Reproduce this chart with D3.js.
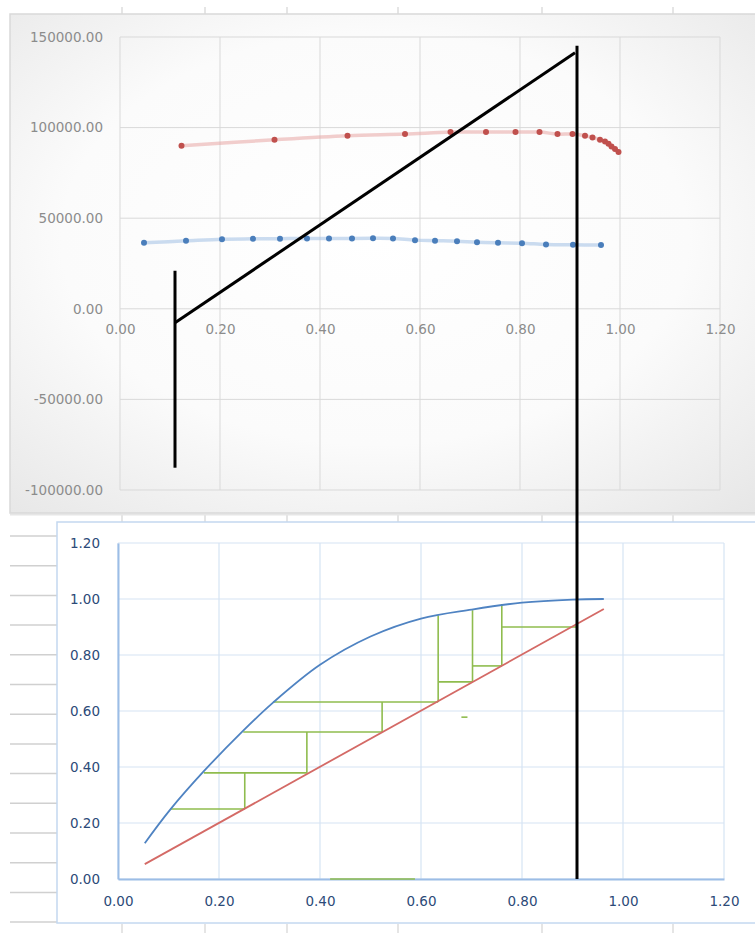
<!DOCTYPE html>
<html>
<head>
<meta charset="utf-8">
<script src="https://cdn.jsdelivr.net/npm/d3@7"></script>
<style>
  html, body { margin: 0; padding: 0; background: #ffffff; }
  svg { display: block; }
  text { font-family: "DejaVu Sans", sans-serif; }
</style>
</head>
<body>
<script>
// ---------------- DATA ----------------
// Top chart
const topXTicks = [0, 0.2, 0.4, 0.6, 0.8, 1.0, 1.2];
const topYTicks = [-100000, -50000, 0, 50000, 100000, 150000];

const redX = [0.123, 0.309, 0.455, 0.570, 0.661, 0.732, 0.791, 0.839, 0.875, 0.905, 0.930, 0.945, 0.960, 0.970, 0.977, 0.983, 0.990, 0.997];
const redY = [89960, 93270, 95480, 96420, 97520, 97520, 97520, 97520, 96420, 96420, 95480, 94540, 93270, 92330, 91060, 89570, 88140, 86480];

const blueX = [0.048, 0.132, 0.204, 0.266, 0.320, 0.374, 0.418, 0.464, 0.506, 0.546, 0.590, 0.630, 0.674, 0.714, 0.756, 0.804, 0.852, 0.906, 0.962];
const blueY = [36400, 37500, 38400, 38600, 38700, 38800, 38800, 38800, 38900, 38800, 37900, 37600, 37300, 36700, 36400, 36200, 35500, 35300, 35200];

// Black annotation lines (in chart data units)
const annoLeftVertical = { x: 0.11, y1: 21000, y2: -87700 };
const annoDiagonal = [[0.11, -7700], [0.91, 141300]];
const annoRightVertical = { x: 0.914, yTopChart: 145200, yBottomChart: 0 };

// Bottom chart: x-y equilibrium diagram
const botXTicks = [0, 0.2, 0.4, 0.6, 0.8, 1.0, 1.2];
const botYTicks = [0, 0.2, 0.4, 0.6, 0.8, 1.0, 1.2];

const eqX = [0.053, 0.103, 0.170, 0.248, 0.307, 0.400, 0.500, 0.600, 0.700, 0.800, 0.900, 0.962];
const eqY = [0.128, 0.247, 0.385, 0.530, 0.630, 0.765, 0.866, 0.930, 0.962, 0.987, 0.998, 1.000];

const diagX = [0.053, 0.962];
const diagY = [0.053, 0.964];

// Green step segments: [x1, y1, x2, y2]
const stepSegments = [
  [0.909, 0.900, 0.760, 0.900],
  [0.760, 0.982, 0.760, 0.761],
  [0.760, 0.761, 0.702, 0.761],
  [0.702, 0.960, 0.702, 0.704],
  [0.702, 0.704, 0.634, 0.704],
  [0.634, 0.942, 0.634, 0.632],
  [0.634, 0.632, 0.307, 0.632],
  [0.523, 0.632, 0.523, 0.525],
  [0.523, 0.525, 0.248, 0.525],
  [0.374, 0.525, 0.374, 0.379],
  [0.374, 0.379, 0.170, 0.379],
  [0.251, 0.379, 0.251, 0.250],
  [0.251, 0.250, 0.103, 0.250],
  [0.680, 0.578, 0.692, 0.578],
  [0.420, 0.000, 0.588, 0.000]
];

// ---------------- DRAWING ----------------
const W = 755, H = 933;
const fmt2 = d => d.toFixed(2);
const svg = d3.select("body").append("svg").attr("width", W).attr("height", H);
svg.append("rect").attr("width", W).attr("height", H).attr("fill", "#ffffff");

const defs = svg.append("defs");
const rg = defs.append("radialGradient").attr("id", "topbg")
  .attr("cx", "48%").attr("cy", "45%").attr("r", "75%");
rg.append("stop").attr("offset", "0%").attr("stop-color", "#ffffff");
rg.append("stop").attr("offset", "55%").attr("stop-color", "#fbfbfb");
rg.append("stop").attr("offset", "100%").attr("stop-color", "#e6e6e6");

// spreadsheet decorations
const colEdges = [122, 205, 287, 398, 542, 673];
const deco = svg.append("g");
colEdges.forEach(cx => {
  deco.append("line").attr("x1", cx).attr("x2", cx).attr("y1", 7).attr("y2", 14).attr("stroke", "#d4d4d4").attr("stroke-width", 1.2);
  deco.append("line").attr("x1", cx).attr("x2", cx).attr("y1", 514).attr("y2", 522).attr("stroke", "#d4d4d4").attr("stroke-width", 1.2);
  deco.append("line").attr("x1", cx).attr("x2", cx).attr("y1", 924).attr("y2", 933).attr("stroke", "#d4d4d4").attr("stroke-width", 1.2);
});
for (let k = 0; k < 14; k++) {
  const ry = 536 + k * 29.7;
  deco.append("line").attr("x1", 10).attr("x2", 57).attr("y1", ry).attr("y2", ry).attr("stroke", "#d0d0d0").attr("stroke-width", 1.5);
}
deco.append("line").attr("x1", 10).attr("x2", W).attr("y1", 514.5).attr("y2", 514.5).attr("stroke", "#e6e6e6").attr("stroke-width", 2);

// ---------- TOP CHART ----------
const topG = svg.append("g");
topG.append("rect").attr("x", 10).attr("y", 14).attr("width", 760).attr("height", 499)
  .attr("fill", "url(#topbg)").attr("stroke", "#d9d9d9").attr("stroke-width", 1.5);

const xT = d3.scaleLinear().domain([0, 1.2]).range([120, 720]);
const yT = d3.scaleLinear().domain([-100000, 150000]).range([490, 37]);

const gridT = topG.append("g").attr("stroke", "#d9d9d9").attr("stroke-width", 1);
topXTicks.forEach(t => gridT.append("line").attr("x1", xT(t)).attr("x2", xT(t)).attr("y1", yT(150000)).attr("y2", yT(-100000)));
topYTicks.forEach(t => gridT.append("line").attr("x1", xT(0)).attr("x2", xT(1.2)).attr("y1", yT(t)).attr("y2", yT(t)));

const yAxisT = d3.axisLeft(yT).tickValues(topYTicks).tickFormat(fmt2).tickSize(0).tickPadding(17);
const gyT = topG.append("g").attr("transform", `translate(${xT(0)},0)`).call(yAxisT);
gyT.select(".domain").remove();
gyT.selectAll("text").attr("fill", "#8c8c8c").attr("font-size", "13.5px").attr("font-family", "DejaVu Sans, sans-serif");

const xAxisT = d3.axisBottom(xT).tickValues(topXTicks).tickFormat(fmt2).tickSize(0).tickPadding(16);
const gxT = topG.append("g").attr("transform", `translate(0,${yT(0)})`).call(xAxisT);
gxT.select(".domain").remove();
gxT.selectAll("text").attr("fill", "#8c8c8c").attr("font-size", "13.5px").attr("font-family", "DejaVu Sans, sans-serif");

const lineT = d3.line().x(d => xT(d[0])).y(d => yT(d[1])).curve(d3.curveCatmullRom);
const redPts = redX.map((x, i) => [x, redY[i]]);
const bluePts = blueX.map((x, i) => [x, blueY[i]]);

topG.append("path").datum(redPts).attr("d", lineT).attr("fill", "none")
  .attr("stroke", "#e8a6a4").attr("stroke-opacity", 0.55).attr("stroke-width", 3.5);
topG.append("path").datum(bluePts).attr("d", lineT).attr("fill", "none")
  .attr("stroke", "#a9c4e6").attr("stroke-opacity", 0.6).attr("stroke-width", 3.5);

topG.append("g").selectAll("circle").data(redPts).join("circle")
  .attr("cx", d => xT(d[0])).attr("cy", d => yT(d[1])).attr("r", 3).attr("fill", "#c0504d");
topG.append("g").selectAll("circle").data(bluePts).join("circle")
  .attr("cx", d => xT(d[0])).attr("cy", d => yT(d[1])).attr("r", 3).attr("fill", "#4a7ebb");

// ---------- BOTTOM CHART ----------
const botG = svg.append("g");
botG.append("rect").attr("x", 57).attr("y", 522).attr("width", 720).attr("height", 401)
  .attr("fill", "#ffffff").attr("stroke", "#c3d8f0").attr("stroke-width", 1.5);

const xB = d3.scaleLinear().domain([0, 1.2]).range([118, 724]);
const yB = d3.scaleLinear().domain([0, 1.2]).range([879, 543]);

const gridB = botG.append("g").attr("stroke", "#d6e4f4").attr("stroke-width", 1.2);
botXTicks.forEach(t => gridB.append("line").attr("x1", xB(t)).attr("x2", xB(t)).attr("y1", yB(1.2)).attr("y2", yB(0)));
botYTicks.forEach(t => gridB.append("line").attr("x1", xB(0)).attr("x2", xB(1.2)).attr("y1", yB(t)).attr("y2", yB(t)));

const yAxisB = d3.axisLeft(yB).tickValues(botYTicks).tickFormat(fmt2).tickSize(0).tickPadding(18);
const gyB = botG.append("g").attr("transform", `translate(${xB(0)},0)`).call(yAxisB);
gyB.select(".domain").attr("stroke", "#9cbde6").attr("stroke-width", 2);
gyB.selectAll("text").attr("fill", "#2c4a78").attr("font-size", "13.5px").attr("font-family", "DejaVu Sans, sans-serif");

const xAxisB = d3.axisBottom(xB).tickValues(botXTicks).tickFormat(fmt2).tickSize(0).tickPadding(17);
const gxB = botG.append("g").attr("transform", `translate(0,${yB(0)})`).call(xAxisB);
gxB.select(".domain").attr("stroke", "#9cbde6").attr("stroke-width", 2);
gxB.selectAll("text").attr("fill", "#2c4a78").attr("font-size", "13.5px").attr("font-family", "DejaVu Sans, sans-serif");

const lineEq = d3.line().x(d => xB(d[0])).y(d => yB(d[1])).curve(d3.curveCatmullRom.alpha(0.5));
const lineDiag = d3.line().x(d => xB(d[0])).y(d => yB(d[1]));
const eqPts = eqX.map((x, i) => [x, eqY[i]]);
const diagPts = diagX.map((x, i) => [x, diagY[i]]);

// green steps
botG.append("g").selectAll("line").data(stepSegments).join("line")
  .attr("x1", d => xB(d[0])).attr("y1", d => yB(d[1]))
  .attr("x2", d => xB(d[2])).attr("y2", d => yB(d[3]))
  .attr("stroke", "#8fbc4e").attr("stroke-width", 1.6);

botG.append("path").datum(diagPts).attr("d", lineDiag).attr("fill", "none")
  .attr("stroke", "#d46a66").attr("stroke-width", 1.8);
botG.append("path").datum(eqPts).attr("d", lineEq).attr("fill", "none")
  .attr("stroke", "#4f83c2").attr("stroke-width", 1.8);

// ---------- BLACK ANNOTATIONS ----------
const anno = svg.append("g").attr("stroke", "#000000").attr("stroke-width", 3).attr("fill", "none");
anno.append("line")
  .attr("x1", xT(annoLeftVertical.x)).attr("x2", xT(annoLeftVertical.x))
  .attr("y1", yT(annoLeftVertical.y1)).attr("y2", yT(annoLeftVertical.y2));
anno.append("line")
  .attr("x1", xT(annoDiagonal[0][0])).attr("y1", yT(annoDiagonal[0][1]))
  .attr("x2", xT(annoDiagonal[1][0])).attr("y2", yT(annoDiagonal[1][1]));
anno.append("line")
  .attr("x1", xT(annoRightVertical.x)).attr("x2", xT(annoRightVertical.x))
  .attr("y1", yT(annoRightVertical.yTopChart)).attr("y2", yB(annoRightVertical.yBottomChart));
</script>
</body>
</html>
